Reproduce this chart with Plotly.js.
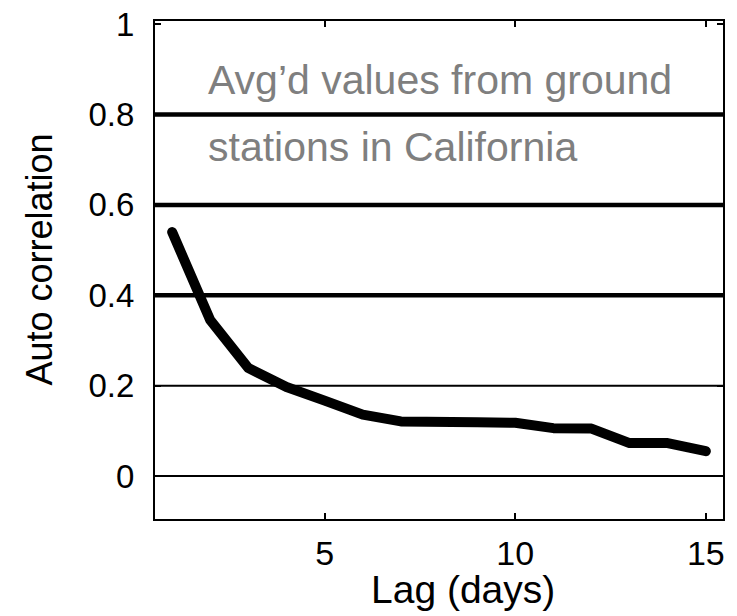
<!DOCTYPE html>
<html>
<head>
<meta charset="utf-8">
<script src="https://cdn.plot.ly/plotly-3.0.1.min.js"></script>
<style>
  html, body { margin: 0; padding: 0; background: #ffffff; }
  #chart { width: 737px; height: 616px; }
  /* rounded ends and joints on the thick curve */
  #chart path.js-line { stroke-linecap: round !important; stroke-linejoin: round !important; }
</style>
</head>
<body>
<div id="chart"></div>
<script>
// Lag in days and the averaged auto-correlation at each lag
const lagDays = [1, 2, 3, 4, 5, 6, 7, 8, 9, 10, 11, 12, 13, 14, 15];
const autoCorr = [0.54, 0.345, 0.239, 0.197, 0.167, 0.136, 0.121, 0.118, 0.119, 0.118, 0.106, 0.105, 0.073, 0.073, 0.055];

// Horizontal reference levels: heavy ones and light ones
const heavyLevels = [0.4, 0.6, 0.8];
const lightLevels = [0, 0.2];

// Axis ticks
const xTicks = [5, 10, 15];
const yTicks = [0, 0.2, 0.4, 0.6, 0.8, 1];
const yTickText = ['0', '0.2', '0.4', '0.6', '0.8', '1'];

// Note text, one entry per line
const noteLines = ['Avg\u2019d values from ground', 'stations in California'];

const font = 'Liberation Sans, Arial, Helvetica, sans-serif';

const shapes = [];
heavyLevels.forEach(v => shapes.push({
  type: 'line', xref: 'paper', yref: 'y', x0: 0, x1: 1, y0: v, y1: v,
  line: { color: '#000000', width: 4.5 }, layer: 'below'
}));
lightLevels.forEach(v => shapes.push({
  type: 'line', xref: 'paper', yref: 'y', x0: 0, x1: 1, y0: v, y1: v,
  line: { color: '#000000', width: 2 }, layer: 'below'
}));

const noteY = [0.882, 0.747];
const annotations = noteLines.map((t, i) => ({
  text: t, xref: 'paper', yref: 'paper', x: 0.09, y: noteY[i],
  xanchor: 'left', yanchor: 'middle', showarrow: false,
  font: { family: font, size: 41, color: '#7f7f7f' }
}));
annotations.push({
  text: 'Lag (days)', xref: 'paper', yref: 'paper', x: 0.542, y: -0.142,
  xanchor: 'center', yanchor: 'middle', showarrow: false,
  font: { family: font, size: 39, color: '#000000' }
});
annotations.push({
  text: 'Auto correlation', xref: 'paper', yref: 'paper', x: -0.205, y: 0.52,
  xanchor: 'center', yanchor: 'middle', showarrow: false, textangle: -90,
  font: { family: font, size: 36, color: '#000000' }
});

const trace = {
  x: lagDays, y: autoCorr, type: 'scatter', mode: 'lines',
  line: { color: '#000000', width: 10 }, hoverinfo: 'skip'
};

const layout = {
  width: 737, height: 616,
  margin: { l: 155, r: 14, t: 21, b: 97 },
  paper_bgcolor: '#ffffff', plot_bgcolor: '#ffffff',
  showlegend: false,
  xaxis: {
    range: [0.55, 15.45], tickvals: xTicks, ticktext: xTicks.map(String),
    ticks: 'inside', ticklen: 6, tickwidth: 2, tickcolor: '#000000',
    showline: true, linewidth: 2, linecolor: '#000000', mirror: 'ticks',
    showgrid: false, zeroline: false, ticklabelstandoff: 3,
    tickfont: { family: font, size: 34, color: '#000000' }
  },
  yaxis: {
    range: [-0.095, 1.007], tickvals: yTicks, ticktext: yTickText,
    ticks: 'inside', ticklen: 6, tickwidth: 2, tickcolor: '#000000',
    showline: true, linewidth: 2, linecolor: '#000000', mirror: 'ticks',
    showgrid: false, zeroline: false, ticklabelstandoff: 12,
    tickfont: { family: font, size: 33, color: '#000000' }
  },
  shapes: shapes,
  annotations: annotations
};

Plotly.newPlot('chart', [trace], layout, { staticPlot: true, displayModeBar: false });
</script>
</body>
</html>
